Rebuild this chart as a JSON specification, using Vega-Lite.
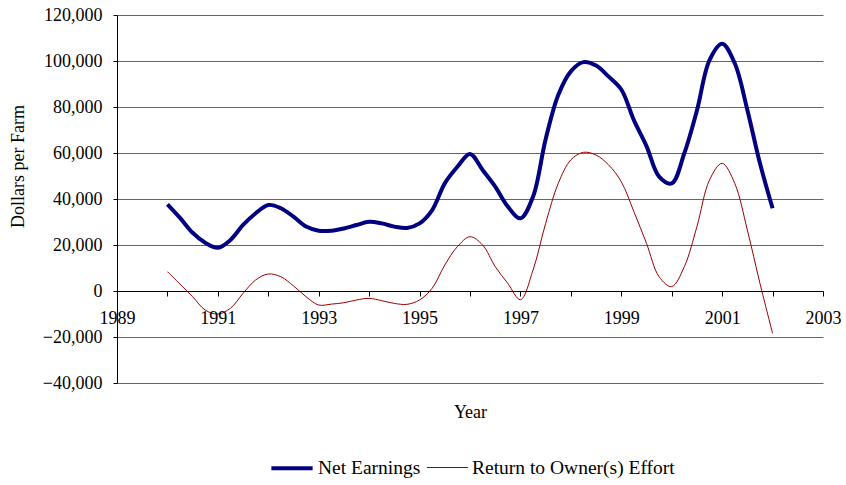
{
  "$schema": "https://vega.github.io/schema/vega-lite/v6.json",
  "autosize": "none",
  "width": 706,
  "height": 368,
  "padding": {"left": 117, "top": 15, "right": 23, "bottom": 102},
  "config": {
    "font": "Liberation Serif",
    "view": {"stroke": null},
    "axis": {"labelFont": "Liberation Serif", "titleFont": "Liberation Serif", "labelFontSize": 18, "titleFontSize": 18, "labelColor": "#000", "titleColor": "#000", "titleFontWeight": "normal", "domainColor": "#000", "tickColor": "#000"},
    "legend": {"labelFont": "Liberation Serif", "labelFontSize": 19.5, "labelColor": "#000", "labelLimit": 500}
  },
  "data": {
    "values": [
      {"year": 1990, "value": 37700, "series": "Net Earnings"},
      {"year": 1990.25, "value": 31800, "series": "Net Earnings"},
      {"year": 1990.5, "value": 25300, "series": "Net Earnings"},
      {"year": 1990.75, "value": 21000, "series": "Net Earnings"},
      {"year": 1991, "value": 18800, "series": "Net Earnings"},
      {"year": 1991.25, "value": 22200, "series": "Net Earnings"},
      {"year": 1991.5, "value": 28700, "series": "Net Earnings"},
      {"year": 1991.75, "value": 33800, "series": "Net Earnings"},
      {"year": 1992, "value": 37400, "series": "Net Earnings"},
      {"year": 1992.25, "value": 36000, "series": "Net Earnings"},
      {"year": 1992.5, "value": 32300, "series": "Net Earnings"},
      {"year": 1992.75, "value": 28000, "series": "Net Earnings"},
      {"year": 1993, "value": 26200, "series": "Net Earnings"},
      {"year": 1993.25, "value": 26200, "series": "Net Earnings"},
      {"year": 1993.5, "value": 27200, "series": "Net Earnings"},
      {"year": 1993.75, "value": 28700, "series": "Net Earnings"},
      {"year": 1994, "value": 30100, "series": "Net Earnings"},
      {"year": 1994.25, "value": 29400, "series": "Net Earnings"},
      {"year": 1994.5, "value": 28000, "series": "Net Earnings"},
      {"year": 1994.75, "value": 27400, "series": "Net Earnings"},
      {"year": 1995, "value": 29400, "series": "Net Earnings"},
      {"year": 1995.25, "value": 35200, "series": "Net Earnings"},
      {"year": 1995.5, "value": 46800, "series": "Net Earnings"},
      {"year": 1995.75, "value": 54000, "series": "Net Earnings"},
      {"year": 1996, "value": 59600, "series": "Net Earnings"},
      {"year": 1996.25, "value": 52600, "series": "Net Earnings"},
      {"year": 1996.5, "value": 45400, "series": "Net Earnings"},
      {"year": 1996.75, "value": 36700, "series": "Net Earnings"},
      {"year": 1997, "value": 31600, "series": "Net Earnings"},
      {"year": 1997.25, "value": 41000, "series": "Net Earnings"},
      {"year": 1997.5, "value": 66000, "series": "Net Earnings"},
      {"year": 1997.75, "value": 85200, "series": "Net Earnings"},
      {"year": 1998, "value": 95500, "series": "Net Earnings"},
      {"year": 1998.25, "value": 99500, "series": "Net Earnings"},
      {"year": 1998.5, "value": 98000, "series": "Net Earnings"},
      {"year": 1998.75, "value": 93200, "series": "Net Earnings"},
      {"year": 1999, "value": 87600, "series": "Net Earnings"},
      {"year": 1999.25, "value": 74300, "series": "Net Earnings"},
      {"year": 1999.5, "value": 63000, "series": "Net Earnings"},
      {"year": 1999.75, "value": 49700, "series": "Net Earnings"},
      {"year": 2000, "value": 46800, "series": "Net Earnings"},
      {"year": 2000.25, "value": 59900, "series": "Net Earnings"},
      {"year": 2000.5, "value": 78500, "series": "Net Earnings"},
      {"year": 2000.75, "value": 100400, "series": "Net Earnings"},
      {"year": 2001, "value": 107500, "series": "Net Earnings"},
      {"year": 2001.25, "value": 99000, "series": "Net Earnings"},
      {"year": 2001.5, "value": 78700, "series": "Net Earnings"},
      {"year": 2001.75, "value": 55500, "series": "Net Earnings"},
      {"year": 2002, "value": 36000, "series": "Net Earnings"},
      {"year": 1990, "value": 8400, "series": "Return to Owner(s) Effort"},
      {"year": 1990.25, "value": 3000, "series": "Return to Owner(s) Effort"},
      {"year": 1990.5, "value": -2500, "series": "Return to Owner(s) Effort"},
      {"year": 1990.75, "value": -8300, "series": "Return to Owner(s) Effort"},
      {"year": 1991, "value": -10000, "series": "Return to Owner(s) Effort"},
      {"year": 1991.25, "value": -7500, "series": "Return to Owner(s) Effort"},
      {"year": 1991.5, "value": -1000, "series": "Return to Owner(s) Effort"},
      {"year": 1991.75, "value": 4800, "series": "Return to Owner(s) Effort"},
      {"year": 1992, "value": 7400, "series": "Return to Owner(s) Effort"},
      {"year": 1992.25, "value": 6200, "series": "Return to Owner(s) Effort"},
      {"year": 1992.5, "value": 2200, "series": "Return to Owner(s) Effort"},
      {"year": 1992.75, "value": -2500, "series": "Return to Owner(s) Effort"},
      {"year": 1993, "value": -6100, "series": "Return to Owner(s) Effort"},
      {"year": 1993.25, "value": -5700, "series": "Return to Owner(s) Effort"},
      {"year": 1993.5, "value": -5100, "series": "Return to Owner(s) Effort"},
      {"year": 1993.75, "value": -3900, "series": "Return to Owner(s) Effort"},
      {"year": 1994, "value": -3200, "series": "Return to Owner(s) Effort"},
      {"year": 1994.25, "value": -4200, "series": "Return to Owner(s) Effort"},
      {"year": 1994.5, "value": -5400, "series": "Return to Owner(s) Effort"},
      {"year": 1994.75, "value": -5800, "series": "Return to Owner(s) Effort"},
      {"year": 1995, "value": -3900, "series": "Return to Owner(s) Effort"},
      {"year": 1995.25, "value": 1200, "series": "Return to Owner(s) Effort"},
      {"year": 1995.5, "value": 11300, "series": "Return to Owner(s) Effort"},
      {"year": 1995.75, "value": 19300, "series": "Return to Owner(s) Effort"},
      {"year": 1996, "value": 23600, "series": "Return to Owner(s) Effort"},
      {"year": 1996.25, "value": 20000, "series": "Return to Owner(s) Effort"},
      {"year": 1996.5, "value": 10600, "series": "Return to Owner(s) Effort"},
      {"year": 1996.75, "value": 3300, "series": "Return to Owner(s) Effort"},
      {"year": 1997, "value": -3800, "series": "Return to Owner(s) Effort"},
      {"year": 1997.25, "value": 9100, "series": "Return to Owner(s) Effort"},
      {"year": 1997.5, "value": 29400, "series": "Return to Owner(s) Effort"},
      {"year": 1997.75, "value": 46800, "series": "Return to Owner(s) Effort"},
      {"year": 1998, "value": 57000, "series": "Return to Owner(s) Effort"},
      {"year": 1998.25, "value": 60300, "series": "Return to Owner(s) Effort"},
      {"year": 1998.5, "value": 59100, "series": "Return to Owner(s) Effort"},
      {"year": 1998.75, "value": 54800, "series": "Return to Owner(s) Effort"},
      {"year": 1999, "value": 47500, "series": "Return to Owner(s) Effort"},
      {"year": 1999.25, "value": 34500, "series": "Return to Owner(s) Effort"},
      {"year": 1999.5, "value": 20700, "series": "Return to Owner(s) Effort"},
      {"year": 1999.75, "value": 6200, "series": "Return to Owner(s) Effort"},
      {"year": 2000, "value": 1900, "series": "Return to Owner(s) Effort"},
      {"year": 2000.25, "value": 10600, "series": "Return to Owner(s) Effort"},
      {"year": 2000.5, "value": 28000, "series": "Return to Owner(s) Effort"},
      {"year": 2000.75, "value": 48300, "series": "Return to Owner(s) Effort"},
      {"year": 2001, "value": 55500, "series": "Return to Owner(s) Effort"},
      {"year": 2001.25, "value": 46800, "series": "Return to Owner(s) Effort"},
      {"year": 2001.5, "value": 26500, "series": "Return to Owner(s) Effort"},
      {"year": 2001.75, "value": 3300, "series": "Return to Owner(s) Effort"},
      {"year": 2002, "value": -18400, "series": "Return to Owner(s) Effort"}
    ]
  },
  "mark": {"type": "line", "interpolate": "catmull-rom", "strokeJoin": "round"},
  "encoding": {
    "x": {
      "field": "year",
      "type": "quantitative",
      "scale": {"domain": [1989, 2003], "nice": false, "zero": false},
      "axis": {
        "title": "Year",
        "values": [1989, 1990, 1991, 1992, 1993, 1994, 1995, 1996, 1997, 1998, 1999, 2000, 2001, 2002, 2003],
        "format": "d",
        "labelExpr": "datum.value % 2 == 1 ? datum.label : ''",
        "offset": -92,
        "grid": false,
        "tickSize": 5,
        "labelPadding": 13,
        "labelFlush": false,
        "labelOverlap": false,
        "titleY": 121,
        "titleBaseline": "middle",
        "zindex": 1
      }
    },
    "y": {
      "field": "value",
      "type": "quantitative",
      "scale": {"domain": [-40000, 120000], "nice": false},
      "axis": {
        "title": "Dollars per Farm",
        "values": [-40000, -20000, 0, 20000, 40000, 60000, 80000, 100000, 120000],
        "format": ",.0f",
        "grid": true,
        "gridColor": "#666",
        "tickSize": 4,
        "labelPadding": 11,
        "titleAngle": 270,
        "titleX": -99,
        "titleY": 151,
        "titleAlign": "center",
        "titleBaseline": "middle"
      }
    },
    "color": {
      "field": "series",
      "type": "nominal",
      "scale": {"domain": ["Net Earnings", "Return to Owner(s) Effort"], "range": ["#000080", "#990000"]},
      "legend": {
        "title": null,
        "orient": "none",
        "direction": "horizontal",
        "legendX": 152,
        "legendY": 430,
        "symbolType": "stroke",
        "symbolSize": 1700,
        "labelOffset": 3,
        "columnPadding": 3
      }
    },
    "strokeWidth": {
      "field": "series",
      "type": "nominal",
      "scale": {"domain": ["Net Earnings", "Return to Owner(s) Effort"], "range": [4, 1]},
      "legend": {
        "title": null,
        "orient": "none",
        "direction": "horizontal",
        "legendX": 152,
        "legendY": 430,
        "symbolType": "stroke",
        "symbolSize": 1700,
        "labelOffset": 3,
        "columnPadding": 3
      }
    }
  }
}
